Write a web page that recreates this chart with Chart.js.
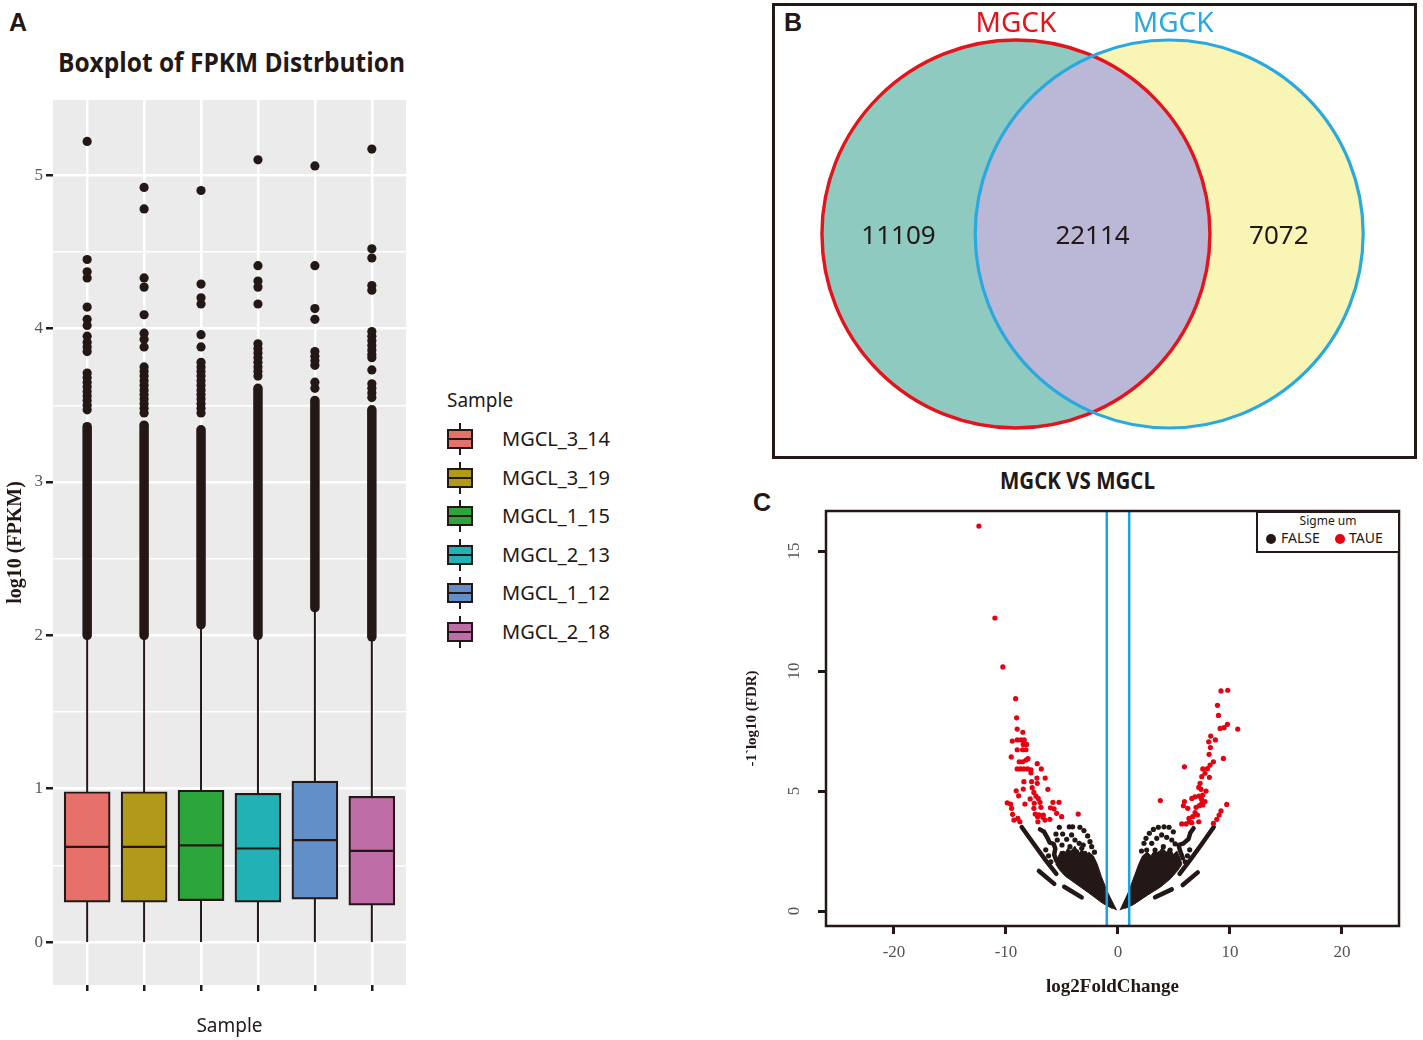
<!DOCTYPE html>
<html><head><meta charset="utf-8">
<script src="https://cdn.jsdelivr.net/npm/chart.js@4.4.0/dist/chart.umd.min.js"></script>
<style>
body{margin:0;width:1423px;height:1040px;background:#fff;position:relative;overflow:hidden;font-family:'Noto Sans',sans-serif;color:#231815}
.abs{position:absolute}
.plab{font-family:'Liberation Sans',Arial,sans-serif;font-weight:bold;font-size:25px;line-height:26px}
.fit{white-space:nowrap;transform-origin:left center}
canvas{display:block}
</style></head><body>
<div class="abs plab" style="left:9px;top:9px">A</div>
<div class="abs plab" style="left:784px;top:9px">B</div>
<div class="abs plab" style="left:753px;top:489px">C</div>
<div class="abs fit" data-w="347" data-cx="231.5" style="top:44px;font-weight:700;font-size:26px;font-family:'Open Sans';line-height:36px">Boxplot of FPKM Distrbution</div>
<div class="abs fit" data-w="155" data-cx="1077" style="top:465px;font-weight:700;font-size:23px;font-family:'Open Sans';line-height:30px">MGCK VS MGCL</div>

<div class="abs" style="left:0;top:90px"><canvas id="cA" width="420" height="950"></canvas></div>
<div id="legA"></div>

<div class="abs" style="left:772px;top:3px;width:645px;height:456px;border:3px solid #231815;box-sizing:border-box"><canvas id="cB" width="639" height="450"></canvas></div>

<div class="abs" style="left:740px;top:495px"><canvas id="cC" width="680" height="515"></canvas></div>
<div id="legC" class="abs" style="left:1256px;top:511px;width:144px;height:42px;border:2.5px solid #231815;box-sizing:border-box;background:#fff">
  <div class="abs" style="left:0;right:0;top:1px;text-align:center;font-size:12px;line-height:14px">Sigme um</div>
  <div class="abs" style="left:8px;top:21px;width:10px;height:10px;border-radius:50%;background:#231815"></div>
  <div class="abs" style="left:23px;top:16px;font-size:14px;line-height:18px">FALSE</div>
  <div class="abs" style="left:77px;top:21px;width:10px;height:10px;border-radius:50%;background:#E60012"></div>
  <div class="abs" style="left:91px;top:16px;font-size:14px;line-height:18px">TAUE</div>
</div>

<script>
// ---------------- Panel A data (log10 FPKM boxplot) ----------------
const samples = ['MGCL_3_14','MGCL_3_19','MGCL_1_15','MGCL_2_13','MGCL_1_12','MGCL_2_18'];
const boxQ1     = [0.26, 0.26, 0.27, 0.26, 0.28, 0.24];
const boxMedian = [0.62, 0.62, 0.63, 0.61, 0.665, 0.595];
const boxQ3     = [0.98, 0.98, 0.99, 0.97, 1.05, 0.95];
const whiskerLow  = [0, 0, 0, 0, 0, 0];
const whiskerHigh = [2.00, 2.00, 2.07, 2.00, 2.18, 1.99];
const denseOutlierTop = [3.36, 3.37, 3.34, 3.61, 3.53, 3.47];
const outliers1 = [5.22,4.45,4.37,4.33,4.14,4.06,4.02,3.95,3.91,3.88,3.85,3.71,3.68,3.65,3.62,3.59,3.56,3.53,3.50,3.47];
const outliers2 = [4.92,4.78,4.33,4.27,4.09,3.97,3.93,3.88,3.75,3.72,3.69,3.66,3.63,3.60,3.57,3.54,3.51,3.48,3.45];
const outliers3 = [4.90,4.29,4.20,4.16,3.96,3.88,3.78,3.75,3.72,3.69,3.66,3.63,3.60,3.57,3.54,3.51,3.48,3.45];
const outliers4 = [5.10,4.41,4.31,4.27,4.16,3.90,3.87,3.84,3.81,3.78,3.75,3.72,3.69];
const outliers5 = [5.06,4.41,4.13,4.06,3.85,3.82,3.79,3.76,3.65,3.61];
const outliers6 = [5.17,4.52,4.46,4.28,4.25,3.98,3.95,3.92,3.89,3.86,3.83,3.81,3.73,3.64,3.61,3.58,3.55];
const outliers = [outliers1,outliers2,outliers3,outliers4,outliers5,outliers6];
const yTickLabelsA = [0,1,2,3,4,5];
const yGridA = [0,0.5,1,1.5,2,2.5,3,3.5,4,4.5,5];
const boxColors = ['#E5716A','#B19A1A','#2CA63B','#22B2B5','#638FC9','#BE6DA6'];

// ---------------- Panel B data (Venn) ----------------
const vennSetNames = ['MGCK','MGCK'];
const vennCounts = [11109, 22114, 7072]; // left only, both, right only

// ---------------- Panel C data (volcano: [log2FoldChange, -log10 FDR]) ----------------
const sigLeft = [[-12.42,16.04],[-10.99,12.21],[-10.28,10.17],
 [-9.14,8.85],[-9.05,8.05],[-9.0,7.58],[-8.49,7.45],[-9.44,7.08],[-9.0,7.13],[-8.67,7.13],[-8.37,7.13],
 [-8.16,6.94],[-8.46,6.94],[-9.0,6.72],[-8.52,6.72],[-8.22,6.72],[-9.53,6.42],
 [-8.82,6.22],[-8.52,6.22],[-8.22,6.29],[-8.04,6.35],[-7.21,6.14],
 [-9.0,5.92],[-8.70,5.92],[-8.40,5.92],[-8.07,5.92],[-7.77,5.88],[-6.85,5.92],[-7.77,5.76],
 [-7.24,5.54],[-6.50,5.54],[-8.40,5.39],[-7.71,5.39],[-7.21,5.32],[-7.66,5.14],[-6.26,5.07],[-9.09,5.01],[-8.46,5.08],
 [-7.51,4.94],[-7.33,4.79],[-8.87,4.80],[-7.12,4.69],[-7.84,4.67],
 [-9.89,4.51],[-9.59,4.46],[-8.31,4.46],[-7.48,4.49],[-6.97,4.53],[-5.81,4.53],[-5.27,4.53],
 [-9.50,4.28],[-7.51,4.28],[-6.88,4.32],[-6.03,4.30],[-5.71,4.26],
 [-9.41,4.03],[-7.39,4.04],[-7.06,4.01],[-6.67,4.0],[-5.48,4.07],[-5.03,3.93],[-3.55,4.04],
 [-9.29,3.79],[-8.94,3.86],[-8.76,3.72],[-7.15,3.72],[-6.52,3.79],[-6.08,3.82],[-7.18,3.93],[-6.7,3.9]];
const sigRight = [[9.20,9.17],[9.80,9.20],[8.88,8.57],[8.97,8.15],[9.12,7.61],[9.47,7.64],[9.77,7.78],[10.69,7.58],
 [8.28,7.29],[8.10,7.05],[8.70,7.13],[8.25,6.81],[8.13,6.53],[9.41,6.36],[8.52,6.22],[8.22,6.08],[7.98,5.93],
 [5.93,6.01],[7.57,5.92],[7.77,5.74],[7.48,5.60],[8.16,5.57],[7.33,5.32],[7.21,5.15],[7.42,5.07],[7.86,5.0],
 [7.57,4.83],[6.59,4.69],[6.88,4.76],[7.24,4.79],[7.45,4.67],[7.77,4.56],[7.57,4.42],[3.78,4.60],[5.93,4.56],
 [5.84,4.39],[6.23,4.28],[6.97,4.32],[7.27,4.39],[7.48,4.49],[9.71,4.44],[6.88,4.10],[7.09,4.0],[6.67,3.93],
 [6.34,3.86],[7.21,3.72],[6.59,3.68],[9.20,4.17],[9.03,4.0],[8.82,3.82],[8.52,3.65],[5.69,3.63],[6.08,3.63],[6.37,3.72]];
const nsDotsLeft = [[-5.24,3.49],[-4.35,3.51],[-4.05,3.51],[-3.40,3.49],[-3.04,3.35],[-2.71,3.13],[-2.50,2.89],[-2.35,2.68],
 [-5.54,3.21],[-5.42,2.96],[-4.94,3.21],[-4.58,2.99],[-4.14,3.17],[-3.84,2.96],[-3.46,2.82],[-3.24,2.61],
 [-4.29,2.68],[-3.69,2.47],[-2.95,2.40],[-4.89,2.40],[-6.45,2.55],[-6.2,2.3],[-6.0,2.05],[-4.7,1.85],[-3.9,1.95],
 [-2.1,2.45],[-5.0,2.75],[-3.1,2.75]];
const nsDotsRight = [[2.32,2.82],[2.50,3.03],[2.80,3.24],[3.16,3.40],[3.60,3.49],[4.11,3.51],[4.56,3.49],[4.94,3.30],
 [3.01,2.82],[3.46,3.03],[3.90,3.17],[4.35,3.07],[4.80,2.96],[2.56,2.54],[3.31,2.54],[4.05,2.68],[3.75,2.40],[4.65,2.54],
 [6.4,2.55],[6.2,2.3],[6.0,2.05],[4.6,1.85],[3.8,1.95],[2.1,2.5],[5.1,2.8]];
const nsMassLeft = [[-0.12,0.03],[-0.9,0.75],[-1.5,1.45],[-1.85,1.95],[-2.2,2.3],[-2.6,2.45],[-2.9,2.3],[-3.2,2.55],
 [-3.5,2.4],[-3.85,2.7],[-4.2,2.5],[-4.5,2.6],[-4.8,2.35],[-5.1,2.5],[-5.4,2.2],[-5.55,1.95],[-5.2,1.7],[-4.7,1.45],
 [-3.8,1.15],[-2.6,0.75],[-1.4,0.33],[-0.5,0.1]];
const nsMassRight = [[0.18,0.03],[0.9,0.75],[1.5,1.5],[1.85,1.95],[2.2,2.3],[2.6,2.45],[2.95,2.3],[3.3,2.55],[3.6,2.4],
 [3.95,2.65],[4.3,2.45],[4.65,2.6],[4.95,2.35],[5.25,2.5],[5.55,2.2],[5.7,1.95],[5.35,1.7],[4.7,1.35],[3.8,1.0],
 [2.6,0.65],[1.4,0.27],[0.6,0.1]];
const nsArmLeft   = [[-8.6,3.5],[-7.4,2.72],[-6.4,2.08],[-5.5,1.55]];
const nsArmRight  = [[8.55,3.5],[7.4,2.74],[6.4,2.1],[5.5,1.55]];
const nsHookLeft  = [[-6.97,3.40],[-6.6,3.3],[-6.3,3.05],[-6.1,2.85],[-5.75,2.8],[-5.6,2.6],[-5.7,2.35],[-5.5,2.1]];
const nsHookRight = [[6.75,3.45],[6.45,3.25],[6.3,3.0],[5.85,2.82],[5.4,2.75],[5.55,2.5],[5.8,2.2]];
const nsDashes = [[[-7.06,1.67],[-5.69,1.13]],[[-4.8,1.01],[-3.24,0.57]],[[7.12,1.61],[5.78,1.08]],[[4.8,0.9],[3.31,0.57]]];
const foldCutoffs = [-1, 1];
const xTicksC = [-20,-10,0,10,20];
const yTicksC = [0,5,10,15];

// ---------------- helpers & plugins ----------------
const INK = '#231815';
const serif = "'Liberation Serif','Times New Roman',serif";
const noEv = {responsive:false, animation:false, events:[]};
const xy = a => a.map(p => ({x:p[0], y:p[1]}));

const panelBg = {id:'panelBg', beforeDraw(chart, args, o){ if(!o || !o.color) return;
  const {ctx, chartArea:a} = chart; ctx.save(); ctx.fillStyle=o.color; ctx.fillRect(a.left,a.top,a.width,a.height); ctx.restore(); }};
const frame = {id:'frame', afterDraw(chart, args, o){ if(!o || !o.width) return;
  const {ctx, chartArea:a} = chart; ctx.save(); ctx.strokeStyle=o.color; ctx.lineWidth=o.width; ctx.strokeRect(a.left,a.top,a.width,a.height); ctx.restore(); }};
const polyFill = {id:'polyFill', afterDatasetDraw(chart, args){ const ds = chart.data.datasets[args.index]; if(!ds.polygonFill) return;
  const ctx = chart.ctx, pts = args.meta.data; ctx.save(); ctx.beginPath();
  pts.forEach((p,k)=> k ? ctx.lineTo(p.x,p.y) : ctx.moveTo(p.x,p.y)); ctx.closePath(); ctx.fillStyle = ds.polygonFill; ctx.fill(); ctx.restore(); }};
const rotYTicks = {id:'rotYTicks', afterDraw(chart, args, o){ if(!o || !o.values) return;
  const s = chart.scales.y, ctx = chart.ctx; ctx.save(); ctx.font = o.font; ctx.fillStyle = o.color; ctx.textAlign='center'; ctx.textBaseline='middle';
  o.values.forEach(v => { ctx.save(); ctx.translate(s.right - o.offset, s.getPixelForValue(v)); ctx.rotate(-Math.PI/2); ctx.fillText(String(v),0,0); ctx.restore(); });
  ctx.restore(); }};

// ---------------- Panel A chart ----------------
const dsA = [];
samples.forEach((s,i) => dsA.push({type:'line', data:[{x:i+1,y:whiskerLow[i]},{x:i+1,y:whiskerHigh[i]}], borderColor:INK, borderWidth:2, pointRadius:0, order:6}));
samples.forEach((s,i) => dsA.push({type:'line', data:[{x:i+1,y:whiskerHigh[i]},{x:i+1,y:denseOutlierTop[i]}], borderColor:INK, borderWidth:9.5, borderCapStyle:'round', pointRadius:0, order:5}));
dsA.push({type:'bar', data: samples.map((s,i)=>({x:i+1, y:[boxQ1[i], boxQ3[i]]})), backgroundColor: boxColors, borderColor: INK, borderWidth: 2.2, borderSkipped:false, barThickness: 46, order:4});
dsA.push({type:'scatter', data: samples.map((s,i)=>({x:i+1, y:boxMedian[i]})), pointStyle:'line', pointRadius:22, borderColor:INK, pointBorderWidth:2.2, order:3});
dsA.push({type:'scatter', data: outliers.flatMap((arr,i)=> arr.map(v=>({x:i+1, y:v}))), pointRadius:4.6, backgroundColor:INK, borderWidth:0, pointBorderWidth:0, order:2});

new Chart(document.getElementById('cA'), {
  type:'bar', data:{datasets:dsA}, plugins:[panelBg],
  options:{...noEv,
    layout:{autoPadding:false, padding:{top:10, right:14, left:0, bottom:0}},
    plugins:{legend:{display:false}, tooltip:{enabled:false}, panelBg:{color:'#EBEBEB'}},
    scales:{
      x:{type:'linear', min:0.4, max:6.6, offset:false,
         afterBuildTicks: s => { s.ticks = samples.map((n,i)=>({value:i+1})); },
         afterFit: s => { s.height = 55; s.paddingLeft = 0; s.paddingRight = 0; },
         ticks:{display:false},
         grid:{offset:false, color:'#FFFFFF', lineWidth:2.5, drawTicks:true, tickLength:6, tickWidth:2.5, tickColor:INK},
         border:{display:false},
         title:{display:true, text:'Sample', color:INK, font:{family:'Noto Sans', size:19}, padding:{top:0,bottom:2}}},
      y:{type:'linear', min:-0.28, max:5.49,
         afterBuildTicks: s => { s.ticks = yGridA.map(v=>({value:v})); },
         afterFit: s => { s.width = 53; s.paddingTop = 0; s.paddingBottom = 0; },
         ticks:{autoSkip:false, padding:3, color:'#555', font:{family:serif, size:17},
                callback: v => yTickLabelsA.includes(v) ? String(v) : ''},
         grid:{color:'#FFFFFF', lineWidth: c => (c.tick && yTickLabelsA.includes(c.tick.value)) ? 2.5 : 1.4,
               tickLength:7, tickWidth:2.5, tickColor: c => (c.tick && yTickLabelsA.includes(c.tick.value)) ? INK : 'rgba(0,0,0,0)'},
         border:{display:false},
         title:{display:true, text:'log10 (FPKM)', color:INK, font:{family:serif, size:20, weight:'bold'}, padding:{top:4}}}
    }}
});

// legend A
(function(){
  const L = document.getElementById('legA');
  let h = `<div class="abs" style="left:447px;top:387px;font-size:19px;line-height:26px">Sample</div>`;
  samples.forEach((s,i) => {
    const cy = 439 + i*38.5;
    h += `<div class="abs" style="left:459px;top:${cy-16}px;width:2px;height:32px;background:${INK}"></div>`;
    h += `<div class="abs" style="left:447px;top:${cy-10}px;width:26px;height:20px;background:${boxColors[i]};border:2px solid ${INK};box-sizing:border-box"></div>`;
    h += `<div class="abs" style="left:447px;top:${cy-1}px;width:26px;height:2px;background:${INK}"></div>`;
    h += `<div class="abs" style="left:502px;top:${cy-14}px;font-size:20px;line-height:28px">${s}</div>`;
  });
  L.innerHTML = h;
})();

// ---------------- Panel B chart (Venn) ----------------
const vennGeom = {cx:0.395, r:1};
const vennRadiusPx = c => { const s = c.chart.scales.x; const v = s.getPixelForValue(vennGeom.r) - s.getPixelForValue(0); return isFinite(v) && v > 0 ? v : 0; };
const vennClip = {id:'vennClip',
  beforeDatasetDraw(chart,args){ const ds = chart.data.datasets[args.index]; if(ds.clipTo===undefined) return;
    const el = chart.getDatasetMeta(ds.clipTo).data[0]; const ctx = chart.ctx; ctx.save(); ctx.beginPath(); ctx.arc(el.x, el.y, el.options.radius, 0, Math.PI*2); ctx.clip(); },
  afterDatasetDraw(chart,args){ const ds = chart.data.datasets[args.index]; if(ds.clipTo===undefined) return; chart.ctx.restore(); }};
const vennText = {id:'vennText', afterDatasetsDraw(chart){
  const ctx = chart.ctx, xs = chart.scales.x, ys = chart.scales.y;
  ctx.save(); ctx.textAlign='center'; ctx.textBaseline='middle';
  const nameColors = ['#E4131C','#2AA8E0']; const centers = [-vennGeom.cx, vennGeom.cx];
  ctx.font = "28px 'Noto Sans'";
  vennSetNames.forEach((n,k) => { ctx.fillStyle = nameColors[k]; ctx.fillText(n, xs.getPixelForValue(centers[k]) + (k?4:0), ys.getPixelForValue(vennGeom.r) - 16); });
  const regionX = [-vennGeom.r + 0.015, 0, vennGeom.r - 0.04];
  ctx.font = "26px 'Noto Sans'"; ctx.fillStyle = INK;
  vennCounts.forEach((v,k) => ctx.fillText(String(v), xs.getPixelForValue(regionX[k]) + (k===0?-3:0), ys.getPixelForValue(0) + 3));
  ctx.restore(); }};
const vennCircle = (cx, fill, stroke, width, order, clipTo) => ({data:[{x:cx, y:0}], showLine:false, pointRadius:vennRadiusPx,
  pointBackgroundColor:fill, pointBorderColor:stroke, pointBorderWidth:width, clip:false, order, clipTo});
new Chart(document.getElementById('cB'), {
  type:'scatter', plugins:[vennClip, vennText],
  data:{datasets:[
    vennCircle(-vennGeom.cx, '#8ECAC0', 'rgba(0,0,0,0)', 0, 5),
    vennCircle( vennGeom.cx, '#F9F5B5', 'rgba(0,0,0,0)', 0, 4),
    vennCircle( vennGeom.cx, '#BBB7D6', 'rgba(0,0,0,0)', 0, 3, 0),
    vennCircle(-vennGeom.cx, 'rgba(0,0,0,0)', '#E4131C', 3.4, 2),
    vennCircle( vennGeom.cx, 'rgba(0,0,0,0)', '#2AA8E0', 3.2, 1)
  ]},
  options:{...noEv, layout:{autoPadding:false, padding:0}, plugins:{legend:{display:false}, tooltip:{enabled:false}},
    scales:{x:{display:false, min:-1.637, max:1.657}, y:{display:false, min:-1.144, max:1.175}}}
});

// ---------------- Panel C chart (volcano) ----------------
const RED = '#E60012', BLUE = '#1EA2E6';
const dsC = [];
dsC.push({data:xy(nsMassLeft), showLine:true, borderColor:INK, borderWidth:1, pointRadius:0, polygonFill:INK, order:10});
dsC.push({data:xy(nsMassRight), showLine:true, borderColor:INK, borderWidth:1, pointRadius:0, polygonFill:INK, order:10});
[nsArmLeft, nsArmRight, nsHookLeft, nsHookRight, ...nsDashes].forEach(l => dsC.push({data:xy(l), showLine:true, borderColor:INK, borderWidth:4.5, borderCapStyle:'round', borderJoinStyle:'round', pointRadius:0, order:9}));
dsC.push({data:xy(nsDotsLeft.concat(nsDotsRight)), pointRadius:2.6, backgroundColor:INK, borderWidth:0, order:8});
dsC.push({data:xy(sigLeft.concat(sigRight)), pointRadius:2.6, backgroundColor:RED, borderWidth:0, order:7});
foldCutoffs.forEach(v => dsC.push({data:[{x:v,y:-0.625},{x:v,y:16.67}], showLine:true, borderColor:BLUE, borderWidth:2.5, pointRadius:0, order:1}));

new Chart(document.getElementById('cC'), {
  type:'scatter', data:{datasets:dsC}, plugins:[polyFill, frame, rotYTicks],
  options:{...noEv,
    layout:{autoPadding:false, padding:{top:16, right:21, left:0, bottom:0}},
    plugins:{legend:{display:false}, tooltip:{enabled:false}, frame:{color:INK, width:2.5},
             rotYTicks:{values:yTicksC, font:`17px ${serif}`, color:'#555', offset:31}},
    scales:{
      x:{type:'linear', min:-26.07, max:25.09,
         afterBuildTicks: s => { s.ticks = xTicksC.map(v=>({value:v})); },
         afterFit: s => { s.height = 84; s.paddingLeft = 0; s.paddingRight = 0; },
         ticks:{autoSkip:false, padding:8, color:'#555', font:{family:serif, size:17}},
         grid:{drawOnChartArea:false, drawTicks:true, tickLength:8, tickWidth:3, tickColor:INK},
         border:{display:false},
         title:{display:true, text:'log2FoldChange', color:INK, font:{family:serif, size:19, weight:'bold'}, padding:{top:0,bottom:12}}},
      y:{type:'linear', min:-0.625, max:16.67,
         afterBuildTicks: s => { s.ticks = yTicksC.map(v=>({value:v})); },
         afterFit: s => { s.width = 86; s.paddingTop = 0; s.paddingBottom = 0; },
         ticks:{display:false},
         grid:{drawOnChartArea:false, drawTicks:true, tickLength:8, tickWidth:3, tickColor:INK},
         border:{display:false},
         title:{display:true, text:'-1`log10 (FDR)', color:INK, font:{family:serif, size:15, weight:'bold'}, padding:{top:3}}}
    }}
});

// fit condensed titles
document.querySelectorAll('.fit').forEach(el => {
  const w = +el.dataset.w, nat = el.getBoundingClientRect().width;
  el.style.transform = `scaleX(${w/nat})`;
  el.style.left = (+el.dataset.cx - w/2) + 'px';
});
</script>
</body></html>
